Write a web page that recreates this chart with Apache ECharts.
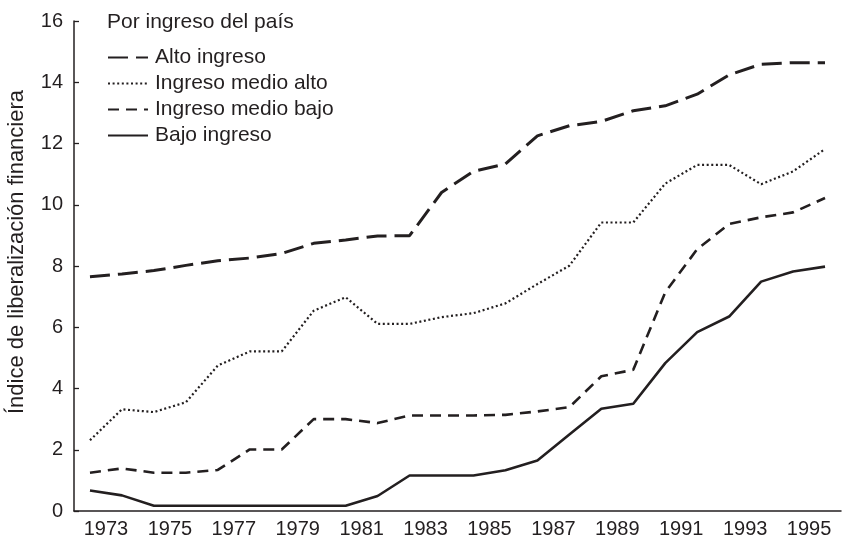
<!DOCTYPE html>
<html>
<head>
<meta charset="utf-8">
<script src="https://cdn.jsdelivr.net/npm/echarts@6/dist/echarts.min.js"></script>
<style>
  html, body { margin: 0; padding: 0; background: #fff; }
  #echart { width: 842px; height: 539px; }
</style>
</head>
<body>
<div id="echart"></div>
<script>
var myChart = echarts.init(document.getElementById('echart'));

// tick labels shown under the axis (one per two-year band)
var tickYears = ['1973', '1975', '1977', '1979', '1981', '1983', '1985', '1987', '1989', '1991', '1993', '1995'];
// yearly points
var years = ['1972', '1973', '1974', '1975', '1976', '1977', '1978', '1979', '1980', '1981', '1982', '1983',
	'1984', '1985', '1986', '1987', '1988', '1989', '1990', '1991', '1992', '1993', '1994', '1995'];

var altoIngreso = [7.65, 7.74, 7.85, 8.02, 8.17, 8.26, 8.41, 8.74, 8.85, 8.98, 8.99, 10.40,
	11.09, 11.33, 12.25, 12.58, 12.72, 13.07, 13.23, 13.61, 14.24, 14.59, 14.64, 14.64];
var medioAlto = [2.31, 3.32, 3.23, 3.55, 4.75, 5.21, 5.21, 6.54, 6.98, 6.11, 6.11, 6.33,
	6.46, 6.78, 7.41, 8.01, 9.42, 9.42, 10.69, 11.30, 11.30, 10.67, 11.09, 11.82];
var medioBajo = [1.25, 1.39, 1.25, 1.25, 1.34, 2.01, 2.01, 3.00, 3.00, 2.87, 3.12, 3.12,
	3.12, 3.14, 3.25, 3.39, 4.40, 4.61, 7.14, 8.55, 9.37, 9.59, 9.75, 10.22];
var bajoIngreso = [0.67, 0.51, 0.17, 0.17, 0.17, 0.17, 0.17, 0.17, 0.17, 0.49, 1.16, 1.16,
	1.16, 1.33, 1.65, 2.50, 3.34, 3.50, 4.83, 5.84, 6.35, 7.49, 7.82, 7.98];

var ink = '#231f20';
var font = 'Liberation Sans, Arial, Helvetica, sans-serif';

option = {
	animation: false,
	backgroundColor: '#fff',
	title: {
		text: 'Por ingreso del país',
		left: 107,
		top: 12,
		padding: 0,
		textStyle: {
			color: ink,
			fontFamily: font,
			fontSize: 21,
			fontWeight: 'normal'
		}
	},
	legend: {
		orient: 'vertical',
		left: 107,
		top: 47,
		padding: 0,
		itemWidth: 40,
		itemHeight: 20,
		itemGap: 5,
		itemStyle: { opacity: 0 },
		data: ['Alto ingreso', 'Ingreso medio alto', 'Ingreso medio bajo', 'Bajo ingreso'],
		textStyle: {
			color: ink,
			fontFamily: font,
			fontSize: 21,
			padding: [0, 0, 0, 2]
		}
	},
	graphic: [{
		type: 'text',
		x: 17,
		y: 252,
		rotation: Math.PI / 2,
		style: {
			text: 'Índice de liberalización financiera',
			fill: ink,
			font: '22px ' + font,
			align: 'center',
			verticalAlign: 'middle'
		}
	}],
	grid: {
		left: 74,
		right: 1,
		top: 21,
		bottom: 28
	},
	xAxis: [{
		type: 'category',
		data: tickYears,
		boundaryGap: true,
		axisLine: {
			lineStyle: { color: ink, width: 1.5 }
		},
		axisTick: {
			inside: true,
			length: 7,
			lineStyle: { color: ink, width: 1.3 }
		},
		axisLabel: {
			interval: 0,
			margin: 8,
			color: ink,
			fontFamily: font,
			fontSize: 20
		}
	}, {
		type: 'category',
		data: years,
		boundaryGap: true,
		show: false
	}],
	yAxis: {
		type: 'value',
		min: 0,
		max: 16,
		interval: 2,
		splitLine: { show: false },
		axisLine: {
			show: true,
			lineStyle: { color: ink, width: 1.5 }
		},
		axisTick: {
			show: true,
			inside: true,
			length: 5,
			lineStyle: { color: ink, width: 1.3 }
		},
		axisLabel: {
			margin: 11,
			color: ink,
			fontFamily: font,
			fontSize: 20
		}
	},
	series: [{
		name: 'Alto ingreso',
		type: 'line',
		xAxisIndex: 1,
		symbol: 'none',
		data: altoIngreso,
		lineStyle: { color: ink, width: 3, type: [20, 8] },
		itemStyle: { color: ink }
	}, {
		name: 'Ingreso medio alto',
		type: 'line',
		xAxisIndex: 1,
		symbol: 'none',
		data: medioAlto,
		lineStyle: { color: ink, width: 2.2, type: [2, 2.6] },
		itemStyle: { color: ink }
	}, {
		name: 'Ingreso medio bajo',
		type: 'line',
		xAxisIndex: 1,
		symbol: 'none',
		data: medioBajo,
		lineStyle: { color: ink, width: 2.6, type: [11, 7] },
		itemStyle: { color: ink }
	}, {
		name: 'Bajo ingreso',
		type: 'line',
		xAxisIndex: 1,
		symbol: 'none',
		data: bajoIngreso,
		lineStyle: { color: ink, width: 2.6 },
		itemStyle: { color: ink }
	}]
};
myChart.setOption(option);
</script>
</body>
</html>
